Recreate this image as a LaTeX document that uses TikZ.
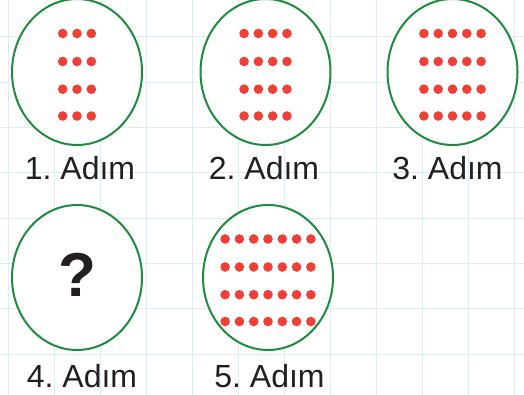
\documentclass[tikz,border=0pt]{standalone}
\usepackage{fontspec}
\setmainfont{Liberation Sans}
\frenchspacing
\usetikzlibrary{shapes.geometric}
\definecolor{gridblue}{RGB}{218,237,250}
\definecolor{ovalgreen}{RGB}{30,140,60}
\definecolor{dotred}{RGB}{238,64,54}
\definecolor{textgray}{RGB}{35,31,32}

\begin{document}
\begin{tikzpicture}[
  x=1pt, y=-1pt,
  gridline/.style={gridblue, line width=1pt},
  stepoval/.style={ellipse, draw=ovalgreen, fill=white, line width=2pt,
                   minimum width=130pt, minimum height=146pt, inner sep=0pt},
  steplabel/.style={text=textgray, font=\fontsize{32}{36}\selectfont,
                    anchor=base, inner sep=0pt},
  reddot/.style={fill=dotred}
]
\useasboundingbox (0,0) rectangle (524,395);
\clip (0,0) rectangle (524,395);
\fill[white] (0,0) rectangle (524,395);

% background grid
\foreach \gx in {8,54,...,514} \draw[gridline] (\gx,0) -- (\gx,395);
\foreach \gy in {-8.3,37,...,400} \draw[gridline] (0,\gy) -- (524,\gy);

% steps
\node[stepoval] (s1) at (77,72) {};
\node[stepoval] (s2) at (265.5,72) {};
\node[stepoval] (s3) at (452.5,72) {};
\node[stepoval] (s5) at (268,277.5) [minimum height=145pt] {};
\node[stepoval, minimum height=145pt] (s4) at (77,277.5) {};
\node[text=textgray, font=\fontsize{62}{62}\selectfont\bfseries] (q) at ([yshift=3]s4.center) {?};

% dot arrays: 4 rows, n columns
\foreach \e/\n in {s1/3,s2/4,s3/5,s5/7}
  \foreach \r in {-38.5,-10.5,17.2,44}
    \foreach \c in {1,...,\n}
      \fill[reddot] ([shift={({(\c-\n/2-0.5)*14.3},\r)}]\e.center) circle[radius=4.8];

% labels
\node[steplabel] (l1) at (80,180) {1. Adım};
\node[steplabel] (l2) at (264,180) {2. Adım};
\node[steplabel] (l3) at (447.5,180) {3. Adım};
\node[steplabel] (l4) at (82,387) {4. Adım};
\node[steplabel] (l5) at (269.5,387) {5. Adım};
\end{tikzpicture}
\end{document}
